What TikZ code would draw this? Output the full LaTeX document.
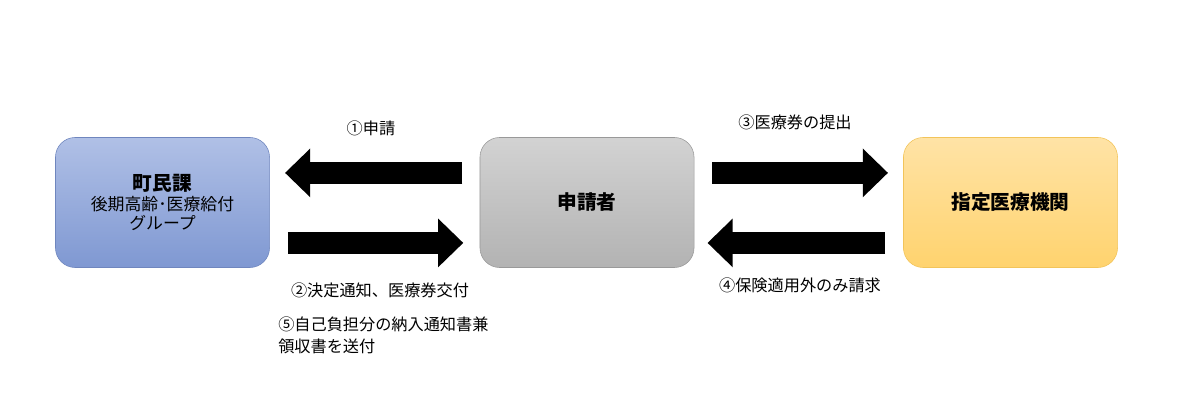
\documentclass[tikz,border=0pt]{standalone}
\usepackage{fontspec}
\setmainfont{Noto Sans CJK JP}
\usetikzlibrary{positioning, arrows.meta}
\definecolor{townTop}{HTML}{B0C0E6}
\definecolor{townBot}{HTML}{7F98D2}
\definecolor{townEdge}{HTML}{6F86BE}
\definecolor{instTop}{HTML}{FFE3A6}
\definecolor{instBot}{HTML}{FFD36E}
\definecolor{instEdge}{HTML}{F2C45A}
\tikzset{
    station/.style={draw=#1, rounded corners=14pt, minimum width=5.35cm, minimum height=3.25cm, align=center, font=\fontsize{14}{17}\selectfont},
    flow/.style={line width=0.55cm, -{Triangle[length=0.63cm, width=1.18cm]}},
    note/.style={font=\fontsize{11.5}{15.5}\selectfont, inner sep=0pt},
}
\begin{document}
\begin{tikzpicture}[x=0.025cm, y=-0.025cm]
    \useasboundingbox (0,0) rectangle (1189,418);

    \node[station=townEdge, top color=townTop, bottom color=townBot] (town) at (162.5,202.5)
      {\textbf{町民課}\\[-3pt]{\fontsize{12}{15}\selectfont 後期高齢･医療給付}\\[-3pt]{\fontsize{12}{15}\selectfont グループ}};
    \node[station=gray!80, top color=gray!35, bottom color=gray!60] (appl) at (587,202.5) {\textbf{申請者}};
    \node[station=instEdge, top color=instTop, bottom color=instBot] (inst) at (1010.5,202.5) {\textbf{指定医療機関}};

    % arrows between the boxes
    \draw[flow] ([xshift=-0.43cm, yshift=0.74cm]appl.west) -- ([xshift=0.38cm, yshift=0.74cm]town.east);
    \draw[flow] ([xshift=0.45cm, yshift=-1.01cm]town.east) -- ([xshift=-0.41cm, yshift=-1.01cm]appl.west);
    \draw[flow] ([xshift=0.45cm, yshift=0.74cm]appl.east) -- ([xshift=-0.38cm, yshift=0.74cm]inst.west);
    \draw[flow] ([xshift=-0.45cm, yshift=-1.01cm]inst.west) -- ([xshift=0.33cm, yshift=-1.01cm]appl.east);

    \node[note] (n1) at (371,128) {①申請};
    \node[note] (n3) at (795,122) {③医療券の提出};
    \node[note] (n2) at (380,290) {②決定通知、医療券交付};
    \node[note] (n4) at (800,285) {④保険適用外のみ請求};
    \node[note, anchor=north west, align=left] (n5) at (278,317) {⑤自己負担分の納入通知書兼\\領収書を送付};
\end{tikzpicture}
\end{document}
